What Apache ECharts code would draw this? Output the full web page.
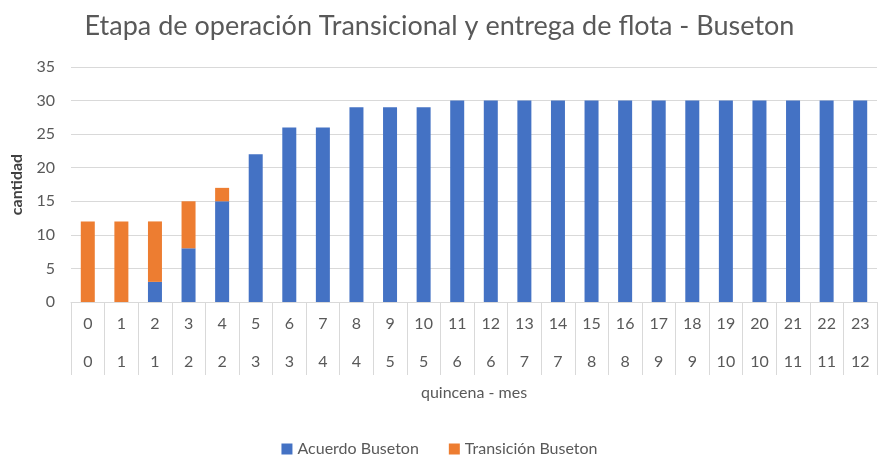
<!DOCTYPE html>
<html>
<head>
<meta charset="utf-8">
<script src="https://cdn.jsdelivr.net/npm/echarts@6/dist/echarts.min.js"></script>
<style>
  html, body { margin: 0; padding: 0; background: #fff; }
  #chart { width: 879px; height: 458px; }
</style>
</head>
<body>
<div id="chart"></div>
<script>
// datos del grafico
const quincena = ['0','1','2','3','4','5','6','7','8','9','10','11','12','13','14','15','16','17','18','19','20','21','22','23'];
const mes = ['0','1','1','2','2','3','3','4','4','5','5','6','6','7','7','8','8','9','9','10','10','11','11','12'];
const acuerdo = [0, 0, 3, 8, 15, 22, 26, 26, 29, 29, 29, 30, 30, 30, 30, 30, 30, 30, 30, 30, 30, 30, 30, 30];
const transicion = [12, 12, 9, 7, 2, 0, 0, 0, 0, 0, 0, 0, 0, 0, 0, 0, 0, 0, 0, 0, 0, 0, 0, 0];

const chart = echarts.init(document.getElementById('chart'));
const fontFam = 'Lato, "Open Sans", sans-serif';

const option = {
  animation: false,
  textStyle: { fontFamily: fontFam },
  title: {
    text: 'Etapa de operación Transicional y entrega de flota - Buseton',
    left: 'center',
    top: 8,
    textStyle: { fontSize: 27, fontWeight: 'normal', color: '#595959', fontFamily: fontFam }
  },
  legend: {
    top: 436,
    left: 'center',
    itemWidth: 11,
    itemHeight: 11,
    itemGap: 30,
    icon: 'rect',
    textStyle: { fontSize: 16, color: '#595959' },
    data: ['Acuerdo Buseton', 'Transición Buseton']
  },
  grid: { left: 71, right: 2, top: 67, bottom: 156 },
  xAxis: {
    type: 'category',
    data: quincena,
    name: 'quincena - mes',
    nameLocation: 'middle',
    nameGap: 83,
    nameTextStyle: { fontSize: 16, color: '#595959' },
    axisLine: { show: true, lineStyle: { color: '#d9d9d9' } },
    axisTick: { show: true, interval: 0, length: 73, lineStyle: { color: '#d9d9d9' } },
    axisLabel: {
      interval: 0,
      margin: 3,
      formatter: function(v, i) {
        return '{q|' + v + '}\n{m|' + mes[i] + '}';
      },
      rich: {
        q: { fontSize: 16, color: '#595959', lineHeight: 38 },
        m: { fontSize: 16, color: '#595959', lineHeight: 38 }
      }
    }
  },
  yAxis: {
    type: 'value',
    min: 0,
    max: 35,
    interval: 5,
    name: 'cantidad',
    nameLocation: 'middle',
    nameGap: 46,
    nameTextStyle: { fontSize: 16, color: '#404040', fontWeight: 'bold' },
    axisLine: { show: false },
    axisTick: { show: false },
    axisLabel: { fontSize: 16, color: '#595959', margin: 16 },
    splitLine: { lineStyle: { color: '#d9d9d9' } }
  },
  series: [
    {
      name: 'Acuerdo Buseton',
      type: 'bar',
      stack: 'total',
      barWidth: 14,
      data: acuerdo,
      itemStyle: { color: '#4472C4' }
    },
    {
      name: 'Transición Buseton',
      type: 'bar',
      stack: 'total',
      barWidth: 14,
      data: transicion,
      itemStyle: { color: '#ED7D31' }
    }
  ]
};

chart.setOption(option);
</script>
</body>
</html>
